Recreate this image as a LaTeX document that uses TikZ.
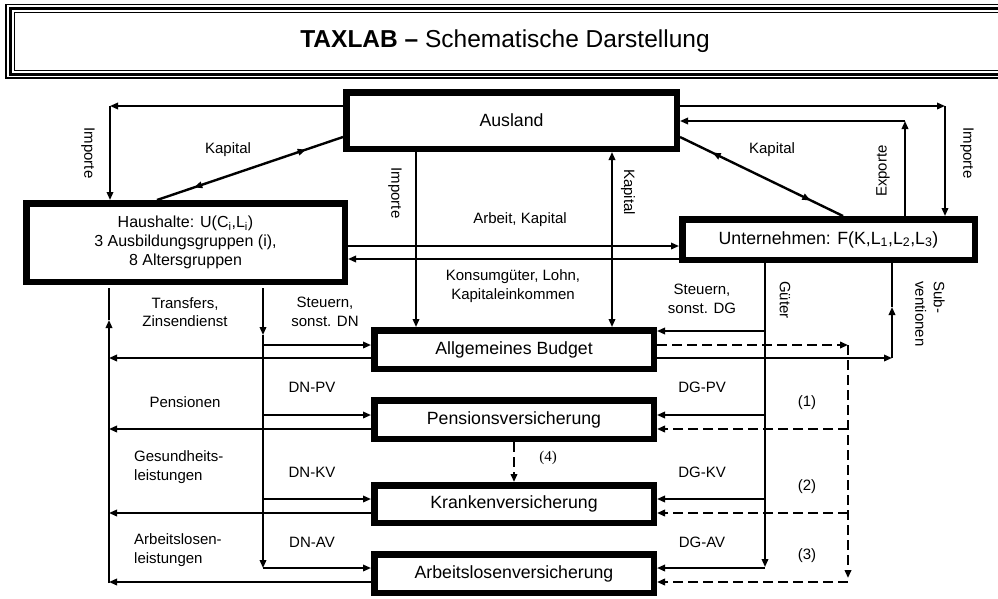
\documentclass[tikz,border=0pt]{standalone}
\usepackage{fontspec}
\setmainfont{Liberation Sans}
\newfontfamily\numfont{Liberation Serif}
\usetikzlibrary{arrows.meta,calc,decorations.markings}

\begin{document}
\begin{tikzpicture}[x=1pt, y=-1pt,
    >={Triangle[length=8pt,width=6.5pt]},
    box/.style={draw, line width=6.5pt, align=center, inner sep=0pt,
        font=\fontsize{17.7}{20}\selectfont},
    lbl/.style={inner sep=0pt, align=center, font=\fontsize{15}{18.4}\selectfont},
    flow/.style={line width=1.8pt},
    dflow/.style={line width=2pt, dash pattern=on 10pt off 5pt},
    kapflow/.style={line width=2.4pt, postaction={decorate},
        decoration={markings,
            mark=at position 0.2 with {\arrowreversed{>}},
            mark=at position 0.8 with {\arrow{>}}}}]
    \useasboundingbox (0,0) rectangle (998,598);
    \clip (0,0) rectangle (998,598);

    % Title frame
    \draw[line width=1.2pt] (6,4.5) rectangle (1012,78);
    \draw[line width=3pt] (10,8) rectangle (1008,74.5);
    \draw[line width=1pt] (14.5,12.5) rectangle (1004,70.5);
    \node[font=\fontsize{24.5}{28}\selectfont] (title) at (505,41)
        {\textbf{TAXLAB –} Schematische Darstellung};

    % Boxes
    \node[box, minimum width=330.5pt, minimum height=56.5pt] (ausland) at (511.5,120.5) {Ausland};
    \node[box, font=\fontsize{16}{19}\selectfont, minimum width=318.5pt, minimum height=78.5pt]
        (haushalte) at (185.5,242.5)
        {Haushalte: U(C\textsubscript{i},L\textsubscript{i})\\3 Ausbildungsgruppen (i),\\8 Altersgruppen};
    \node[box, minimum width=292.5pt, minimum height=40.5pt] (unternehmen) at (828.5,239.5)
        {Unternehmen: F(K,L\textsubscript{1},L\textsubscript{2},L\textsubscript{3})};
    \node[box, minimum width=279.5pt, minimum height=38.5pt] (budget) at (514,349.5) {Allgemeines Budget};
    \node[box, minimum width=279.5pt, minimum height=38.5pt] (pension) at (514,419.5) {Pensionsversicherung};
    \node[box, minimum width=279.5pt, minimum height=37.5pt] (kranken) at (514,504) {Krankenversicherung};
    \node[box, minimum width=279.5pt, minimum height=38.5pt] (alv) at (514,573.5) {Arbeitslosenversicherung};

    % Corner points
    \coordinate (impL) at (110,106);
    \coordinate (impR) at (945,106);
    \coordinate (expR) at (905,121);
    \coordinate (trTop) at (109,320);
    \coordinate (trBot) at (109,583);
    \coordinate (stMid) at (263,335);
    \coordinate (stBot) at (263,568);
    \coordinate (guBot) at (765,567);
    \coordinate (subC) at (892,358);
    \coordinate (subMid) at (892,307);
    \coordinate (dTop) at (848,345);
    \coordinate (dBot) at (848,578);

    % Ausland - Haushalte
    \draw[flow,->] (ausland.west |- impL) -- (impL);
    \draw[flow,->] (impL) -- (impL |- haushalte.north);
    \draw[kapflow] (haushalte.north -| 157,0) -- (ausland.west |- 0,137);

    % Ausland - Unternehmen
    \draw[flow,->] (ausland.east |- impR) -- (impR);
    \draw[flow,->] (impR) -- (impR |- unternehmen.north);
    \draw[flow,->] (unternehmen.north -| expR) -- (expR);
    \draw[flow,->] (expR) -- (expR -| ausland.east);
    \draw[kapflow] (unternehmen.north -| 843,0) -- (ausland.east |- 0,137);

    % Ausland - Budget
    \draw[flow,->] (ausland.south -| 416,0) -- (budget.north -| 416,0);
    \draw[flow,<->] (budget.north -| 612,0) -- (ausland.south -| 612,0);

    % Haushalte - Unternehmen
    \draw[flow,->] (haushalte.east |- 0,246) -- (unternehmen.west |- 0,246);
    \draw[flow,->] (unternehmen.west |- 0,259) -- (haushalte.east |- 0,259);

    % Transfers to households
    \draw[flow,->] (trBot) -- (trTop);
    \draw[flow] (trTop) -- ([yshift=-3pt]haushalte.south -| trTop);
    \foreach \b/\y in {budget/358, pension/429, kranken/513, alv/582}
        \draw[flow,->] (\b.west |- 0,\y) -- (trTop |- 0,\y);

    % Taxes of employees
    \draw[flow,->] ([yshift=-3pt]haushalte.south -| stMid) -- (stMid);
    \draw[flow,->] (stMid) -- (stBot);
    \foreach \b/\y in {budget/345, pension/415, kranken/499, alv/568}
        \draw[flow,->] (stMid |- 0,\y) -- (\b.west |- 0,\y);

    % Taxes of firms
    \draw[flow,->] (unternehmen.south -| guBot) -- (guBot);
    \foreach \b/\y in {budget/331, pension/415, kranken/499, alv/568}
        \draw[flow,->] (guBot |- 0,\y) -- (\b.east |- 0,\y);

    % Subsidies
    \draw[flow,->] (budget.east |- subC) -- (subC);
    \draw[flow,->] (subC) -- (subMid);
    \draw[flow] (subMid) -- (unternehmen.south -| subMid);

    % Budget transfers (dashed)
    \draw[dflow,->] (budget.east |- dTop) -- (dTop);
    \draw[dflow,->] (dTop) -- (dBot);
    \foreach \b/\y in {pension/429, kranken/513, alv/582}
        \draw[dflow,->] (dTop |- 0,\y) -- (\b.east |- 0,\y);
    \draw[dflow,->] (pension.south) -- (kranken.north);

    % Labels
    \node[lbl, rotate=-90] (impLtxt) at (88,153) {Importe};
    \node[lbl] (kapLtxt) at (228,150) {Kapital};
    \node[lbl, rotate=-90] (impMtxt) at (395,193) {Importe};
    \node[lbl, rotate=-90] (kapMtxt) at (628,192) {Kapital};
    \node[lbl] (kapRtxt) at (772,150) {Kapital};
    \node[lbl, rotate=90] (expRtxt) at (883,171) {Exporte};
    \node[lbl, rotate=-90] (impRtxt) at (967,153) {Importe};
    \node[lbl] (arbtxt) at (520,220) {Arbeit, Kapital};
    \node[lbl] (konstxt) at (513,286) {Konsumgüter, Lohn,\\Kapitaleinkommen};
    \node[lbl] (trtxt) at (185,312) {Transfers,\\Zinsendienst};
    \node[lbl] (dntxt) at (325,312) {Steuern,\\sonst. DN};
    \node[lbl] (pentxt) at (185,402) {Pensionen};
    \node[lbl, align=left, anchor=west] (gestxt) at (134,467) {Gesundheits-\\leistungen};
    \node[lbl, align=left, anchor=west] (alvtxt) at (134,550) {Arbeitslosen-\\leistungen};
    \node[lbl] (dnpv) at (312,387) {DN-PV};
    \node[lbl] (dnkv) at (312,472) {DN-KV};
    \node[lbl] (dnav) at (312,542) {DN-AV};
    \node[lbl] (dgtxt) at (702,299) {Steuern,\\sonst. DG};
    \node[lbl] (dgpv) at (702,387) {DG-PV};
    \node[lbl] (dgkv) at (702,472) {DG-KV};
    \node[lbl] (dgav) at (702,542) {DG-AV};
    \node[lbl, rotate=-90] (gutxt) at (785,300) {Güter};
    \node[lbl, rotate=-90, align=left] (subtxt) at (930,314) {Sub-\\ventionen};
    \node[lbl] (n1) at (807,403) {(1)};
    \node[lbl] (n2) at (807,487) {(2)};
    \node[lbl] (n3) at (807,556) {(3)};
    \node[lbl, font=\numfont\fontsize{15}{18}\selectfont] (n4) at (548,458) {(4)};
\end{tikzpicture}
\end{document}
